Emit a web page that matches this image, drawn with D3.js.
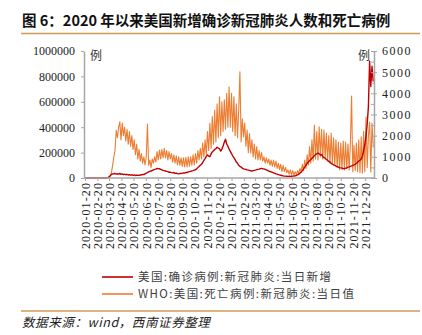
<!DOCTYPE html>
<html><head><meta charset="utf-8">
<script src="https://cdn.jsdelivr.net/npm/d3@7"></script>
<style>body{margin:0;background:#fff}svg{display:block}</style>
</head><body><svg id="c" width="422" height="335"></svg>
<script>
const titleText = "图 6：2020 年以来美国新增确诊新冠肺炎人数和死亡病例";
const sourceText = "数据来源：wind，西南证券整理";
const seriesNames = ["美国:确诊病例:新冠肺炎:当日新增", "WHO:美国:死亡病例:新冠肺炎:当日值"];
const unitLabel = "例";
const startDate = "2020-01-20";
const endDate = "2022-01-11";
const stepDays = 3;
// US daily new confirmed cases, thousands, every 3 days from startDate
const usCasesK = [
0,0,0,0,0,0,0,0,0,0,
0,0,0,0,0,0,0,0,1,3,
8,18,28,32,33,35,31,33,30,36,
29,32,27,30,26,28,24,26,22,25,
22,24,20,23,22,21,25,24,28,27,
33,38,42,48,52,55,60,63,68,70,
76,72,74,68,65,60,58,55,52,50,
45,46,42,40,43,36,39,34,32,36,
35,38,40,39,44,42,48,50,52,56,
58,62,65,72,82,90,100,108,122,138,
152,170,182,172,168,190,205,215,225,230,
242,236,230,212,228,252,282,305,268,250,
228,210,192,175,160,145,126,116,100,92,
86,78,72,70,68,64,62,60,57,55,
58,60,62,66,68,70,74,76,73,72,
68,64,60,55,51,48,44,40,36,32,
30,27,24,22,20,17,15,15,14,13,
14,13,14,15,16,17,20,24,30,38,
47,58,72,86,100,114,126,136,146,156,
166,176,186,190,197,190,180,186,170,160,
156,145,140,130,126,115,110,104,100,94,
90,86,82,80,78,75,74,77,80,85,
88,92,95,100,104,108,114,124,134,140,
150,172,212,262,330,425,560,920,720,880,
760];
// WHO US daily deaths, every 3 days from startDate
const usDeaths = [
0,0,0,0,0,0,0,0,0,0,
0,0,0,0,0,0,0,0,10,20,
40,100,250,600,1000,1300,2250,1900,2400,2650,
1800,2600,2000,2400,1750,2300,1600,2200,1500,2000,
1350,1800,1100,1600,900,1350,800,1150,700,1000,
620,980,2550,600,850,500,900,700,1000,750,
1250,850,1320,900,1350,950,1400,950,1300,850,
1250,900,1150,750,1100,700,1050,620,1000,600,
950,550,950,520,980,520,1000,550,1000,600,
1100,620,1160,700,1300,850,1400,900,1650,1000,
1800,1100,2200,1300,2580,1400,2900,1600,3200,1700,
3500,1900,3840,2000,3600,2200,3700,2300,4000,2400,
4300,2400,4000,2200,3840,2000,3500,1900,3200,5020,
1700,2800,1950,2600,1500,2270,1200,2100,1180,1800,
1000,1600,900,1480,850,1300,850,1200,800,1000,
700,950,700,900,600,850,550,850,520,800,
450,690,400,650,300,600,300,500,250,380,
180,380,150,350,140,300,160,350,200,450,
300,650,350,850,450,1100,600,1480,700,1800,
800,2500,900,2200,850,2420,1000,2300,900,2270,
950,2120,800,2000,700,2120,690,1900,600,1800,
500,1700,400,1650,400,1750,380,1700,450,1600,
380,1650,3870,300,1550,350,1650,300,1800,250,
1950,240,2200,300,2880,500,2000,2640,280,2600,
1500];
const leftTicks = [0,200000,400000,600000,800000,1000000];
const rightTicks = [0,1000,2000,3000,4000,5000,6000];
const rightMinor = [0,500,1000,1500,2000,2500,3000,3500,4000,4500,5000,5500,6000];
const xTickLabels = ["2020-01-20","2020-02-20","2020-03-20","2020-04-20","2020-05-20","2020-06-20",
"2020-07-20","2020-08-20","2020-09-20","2020-10-20","2020-11-20","2020-12-20",
"2021-01-20","2021-02-20","2021-03-20","2021-04-20","2021-05-20","2021-06-20",
"2021-07-20","2021-08-20","2021-09-20","2021-10-20","2021-11-20","2021-12-20"];
const colors = ["#C00000","#ED7D31"];

const svg = d3.select("#c");
const parse = d3.utcParse("%Y-%m-%d");
const t0 = parse(startDate);
const dateAt = i => d3.utcDay.offset(t0, i*stepDays);
const L = 85, R = 374, T = 51, B = 178;
const x = d3.scaleUtc().domain([t0, parse(endDate)]).range([L, R]);
const yL = d3.scaleLinear().domain([0,1000000]).range([B, T]);
const yR = d3.scaleLinear().domain([0,6000]).range([B, T]);
const serif = "'Liberation Serif','Times New Roman',serif";
const cjk = "'Noto Sans CJK SC','Noto Sans',sans-serif";
const axisColor = "#a6a6a6";

svg.append("rect").attr("width",422).attr("height",335).attr("fill","#fff");
// title
svg.append("text").attr("x",22).attr("y",26).text(titleText)
  .style("font-family",cjk).style("font-weight","bold").style("font-size","14.5px").attr("fill","#111");
svg.append("line").attr("x1",21).attr("x2",420).attr("y1",33.5).attr("y2",33.5)
  .attr("stroke","#CF9B55").attr("stroke-width",1.5);

// lines
const lineD = d3.line().x((d,i)=>x(dateAt(i))).y(d=>yR(d));
const lineC = d3.line().x((d,i)=>x(dateAt(i))).y(d=>yL(d*1000));
svg.append("path").datum(usDeaths).attr("d",lineD).attr("fill","none")
  .attr("stroke",colors[1]).attr("stroke-width",1.1).attr("stroke-linejoin","round");
svg.append("path").datum(usCasesK).attr("d",lineC).attr("fill","none")
  .attr("stroke",colors[0]).attr("stroke-width",1.4).attr("stroke-linejoin","round");

function styleAxis(g){
  g.selectAll(".domain").attr("stroke",axisColor).attr("stroke-width",1.5);
  g.selectAll(".tick line").attr("stroke",axisColor);
  g.selectAll("text").style("font-family",serif).style("font-size","12px").attr("fill","#222");
}
// left axis
const gl = svg.append("g").attr("transform",`translate(${L-1},0)`)
  .call(d3.axisLeft(yL).tickValues(leftTicks).tickSize(3).tickSizeOuter(0).tickPadding(6).tickFormat(d3.format("d")));
styleAxis(gl);
// right axis minor ticks
const grm = svg.append("g").attr("transform",`translate(${R},0)`)
  .call(d3.axisLeft(yR).tickValues(rightMinor).tickSize(3).tickSizeOuter(0).tickFormat(""));
grm.select(".domain").remove();
grm.selectAll(".tick line").attr("stroke",axisColor);
const gr = svg.append("g").attr("transform",`translate(${R},0)`)
  .call(d3.axisRight(yR).tickValues(rightTicks).tickSize(3).tickSizeOuter(0).tickPadding(5).tickFormat(d3.format("d")));
styleAxis(gr);
gr.selectAll("text").style("letter-spacing","1.5px");
// x axis
const gx = svg.append("g").attr("transform",`translate(0,${B})`)
  .call(d3.axisBottom(x).tickValues(xTickLabels.map(parse)).tickSize(3).tickSizeOuter(0).tickFormat(d3.utcFormat("%Y-%m-%d")));
gx.select(".domain").attr("d",`M${L-1},0H${R}`);
styleAxis(gx);
gx.selectAll("text").attr("transform","rotate(-90)").attr("x",-4).attr("y",0).attr("dy","0.35em")
  .style("text-anchor","end").style("letter-spacing","1.1px");

// unit labels
svg.append("text").attr("x",90).attr("y",60).text(unitLabel).style("font-family",cjk).style("font-size","12px").attr("fill","#333");
svg.append("text").attr("x",370).attr("y",60).attr("text-anchor","end").text(unitLabel).style("font-family",cjk).style("font-size","12px").attr("fill","#333");

// legend
const lg = svg.append("g");
seriesNames.forEach((n,k)=>{
  const yy = 277 + k*17;
  lg.append("line").attr("x1",102).attr("x2",133).attr("y1",yy).attr("y2",yy)
    .attr("stroke",colors[k]).attr("stroke-width",2).attr("opacity",0.8);
  lg.append("text").attr("x",138).attr("y",yy+4).text(n)
    .style("font-family",cjk).style("font-size","11.5px").style("letter-spacing","1.4px").attr("fill","#404040");
});

svg.append("line").attr("x1",21).attr("x2",420).attr("y1",311).attr("y2",311)
  .attr("stroke","#CF9B55").attr("stroke-width",1.5);
svg.append("text").attr("x",22).attr("y",327).text(sourceText)
  .style("font-family",cjk).style("font-style","italic").style("font-size","12.5px").style("letter-spacing","0.6px").attr("fill","#222");
</script></body></html>
